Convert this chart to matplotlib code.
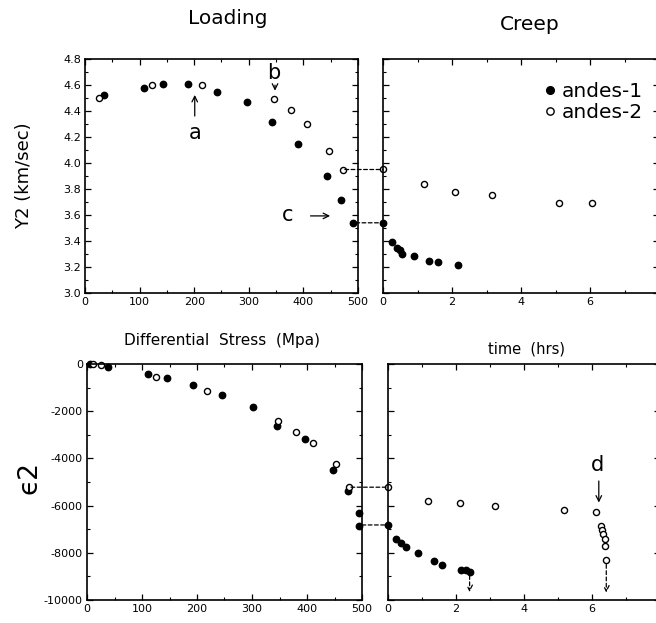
import matplotlib.pyplot as plt
from matplotlib.patches import ConnectionPatch
from matplotlib.ticker import MultipleLocator

plt.rcParams['axes.unicode_minus'] = False

# --- loading, Y2 (km/sec) vs differential stress (MPa)
load_v_a1_x = [35, 108, 142, 189, 241, 297, 342, 391, 444, 469, 490]
load_v_a1_y = [4.52, 4.58, 4.605, 4.605, 4.55, 4.47, 4.316, 4.15, 3.90, 3.716, 3.541]
load_v_a2_x = [26, 122, 215, 346, 377, 407, 446, 472]
load_v_a2_y = [4.50, 4.60, 4.598, 4.49, 4.405, 4.30, 4.095, 3.946]

# --- creep, Y2 vs time (hrs)
creep_v_a1_x = [0, 0.25, 0.40, 0.50, 0.55, 0.90, 1.32, 1.59, 2.17]
creep_v_a1_y = [3.54, 3.395, 3.349, 3.33, 3.30, 3.283, 3.247, 3.237, 3.218]
creep_v_a2_x = [0, 1.19, 2.10, 3.17, 5.11, 6.06]
creep_v_a2_y = [3.952, 3.836, 3.775, 3.754, 3.693, 3.693]

# --- loading, strain e2
load_e_a1_x = [6, 38, 111, 146, 192, 245, 302, 345, 396, 447, 475, 495, 495]
load_e_a1_y = [0, -114, -424, -580, -903, -1314, -1836, -2627, -3191, -4491, -5381, -6300, -6850]
load_e_a2_x = [10, 26, 125, 219, 348, 380, 410, 452, 476]
load_e_a2_y = [0, -42, -537, -1158, -2401, -2867, -3361, -4223, -5230]

# --- creep, strain e2
creep_e_a1_x = [0, 0.23, 0.38, 0.54, 0.88, 1.35, 1.59, 2.16, 2.29, 2.40]
creep_e_a1_y = [-6810, -7415, -7584, -7741, -8021, -8334, -8517, -8716, -8742, -8800]
creep_e_a2_x = [0, 1.19, 2.11, 3.16, 5.17, 6.13, 6.25, 6.28, 6.32, 6.38, 6.38, 6.42]
creep_e_a2_y = [-5220, -5791, -5904, -6017, -6200, -6271, -6864, -7033, -7203, -7427, -7699, -8305]

W, H = 656, 623
fig = plt.figure(figsize=(W / 100, H / 100), dpi=100)


def box(l, r, t, b):
    return [l / W, (H - b) / H, (r - l) / W, (b - t) / H]


ax_lv = fig.add_axes(box(85, 358, 59, 293))
ax_cv = fig.add_axes(box(383, 659, 59, 293))
ax_le = fig.add_axes(box(87, 362, 364, 600))
ax_ce = fig.add_axes(box(388, 660, 364, 600))

filled = dict(linestyle='none', marker='o', markersize=4.6, color='black', clip_on=False)
hollow = dict(linestyle='none', marker='o', markersize=4.4, markerfacecolor='white',
              markeredgecolor='black', markeredgewidth=1.0, clip_on=False)

ax_lv.plot(load_v_a1_x, load_v_a1_y, **filled)
ax_lv.plot(load_v_a2_x, load_v_a2_y, **hollow)
ax_cv.plot(creep_v_a1_x, creep_v_a1_y, label='andes-1', **filled)
ax_cv.plot(creep_v_a2_x, creep_v_a2_y, label='andes-2', **hollow)
ax_le.plot(load_e_a1_x, load_e_a1_y, **filled)
ax_le.plot(load_e_a2_x, load_e_a2_y, **hollow)
ax_ce.plot(creep_e_a1_x, creep_e_a1_y, **filled)
ax_ce.plot(creep_e_a2_x, creep_e_a2_y, **hollow)

for ax in (ax_lv, ax_le):
    ax.set_xlim(0, 500)
    ax.xaxis.set_major_locator(MultipleLocator(100))
    ax.xaxis.set_minor_locator(MultipleLocator(50))
for ax in (ax_cv, ax_ce):
    ax.set_xlim(0, 8)
    ax.xaxis.set_major_locator(MultipleLocator(2))
    ax.xaxis.set_minor_locator(MultipleLocator(1))
    ax.tick_params(labelleft=False)
for ax in (ax_lv, ax_cv):
    ax.set_ylim(3.0, 4.8)
    ax.yaxis.set_major_locator(MultipleLocator(0.2))
    ax.yaxis.set_minor_locator(MultipleLocator(0.1))
for ax in (ax_le, ax_ce):
    ax.set_ylim(-10000, 0)
    ax.yaxis.set_major_locator(MultipleLocator(2000))
    ax.yaxis.set_minor_locator(MultipleLocator(1000))

for ax in (ax_lv, ax_cv, ax_le, ax_ce):
    ax.tick_params(which='both', direction='in', top=True, right=True, labelsize=8, pad=3)
    ax.tick_params(which='major', length=4, width=0.9)
    ax.tick_params(which='minor', length=2.5, width=0.8)
    for s in ax.spines.values():
        s.set_linewidth(1.2)

ax_lv.yaxis.set_major_formatter(plt.FuncFormatter(lambda v, p: f'{v:.1f}'))

ax_lv.set_ylabel('Y2 (km/sec)', fontsize=13)
ax_lv.yaxis.set_label_coords(-52 / 273, 0.5)
ax_le.set_ylabel('ϵ2', fontsize=19)
ax_le.yaxis.set_label_coords(-45 / 275, 0.52)

fig.text(228 / W, 1 - 18 / H, 'Loading', ha='center', va='center', fontsize=14.5)
fig.text(530 / W, 1 - 25 / H, 'Creep', ha='center', va='center', fontsize=14.5)
fig.text(222 / W, 1 - 340 / H, 'Differential  Stress  (Mpa)', ha='center', va='center', fontsize=11)
fig.text(527 / W, 1 - 349 / H, 'time  (hrs)', ha='center', va='center', fontsize=10.5)

ax_cv.legend(loc='upper right', bbox_to_anchor=(0.985, 0.955), frameon=False, fontsize=14.5,
             handletextpad=0.1, handlelength=1.0, labelspacing=0.1, borderaxespad=0.2,
             markerscale=1.2)

arrow = dict(arrowstyle='->', color='black', lw=0.9)
ax_lv.annotate('', xy=(201, 4.545), xytext=(201, 4.34), arrowprops=arrow)
ax_lv.text(201, 4.23, 'a', ha='center', va='center', fontsize=15)
ax_lv.annotate('', xy=(348, 4.535), xytext=(348, 4.62), arrowprops=arrow)
ax_lv.text(345, 4.69, 'b', ha='center', va='center', fontsize=15)
ax_lv.annotate('', xy=(454, 3.593), xytext=(408, 3.593), arrowprops=arrow)
ax_lv.text(372, 3.60, 'c', ha='center', va='center', fontsize=15)

ax_ce.annotate('', xy=(6.2, -5990), xytext=(6.2, -4840), arrowprops=arrow)
ax_ce.text(6.15, -4280, 'd', ha='center', va='center', fontsize=15)
dashed_arrow = dict(arrowstyle='->', color='black', lw=0.9, linestyle=(0, (3, 2)))
ax_ce.annotate('', xy=(2.40, -9780), xytext=(2.40, -8850), arrowprops=dashed_arrow)
ax_ce.annotate('', xy=(6.42, -9800), xytext=(6.42, -8380), arrowprops=dashed_arrow)

# dashed links between loading end and creep start
links = [(ax_lv, ax_cv, 476, 3.95), (ax_lv, ax_cv, 496, 3.54),
         (ax_le, ax_ce, 480, -5220), (ax_le, ax_ce, 500, -6820)]
for a1, a2, x0, y0 in links:
    con = ConnectionPatch(xyA=(x0, y0), coordsA=a1.transData, xyB=(0, y0), coordsB=a2.transData,
                          linestyle=(0, (3, 2)), color='black', lw=0.9)
    fig.add_artist(con)

fig.savefig('out.png', dpi=100)
